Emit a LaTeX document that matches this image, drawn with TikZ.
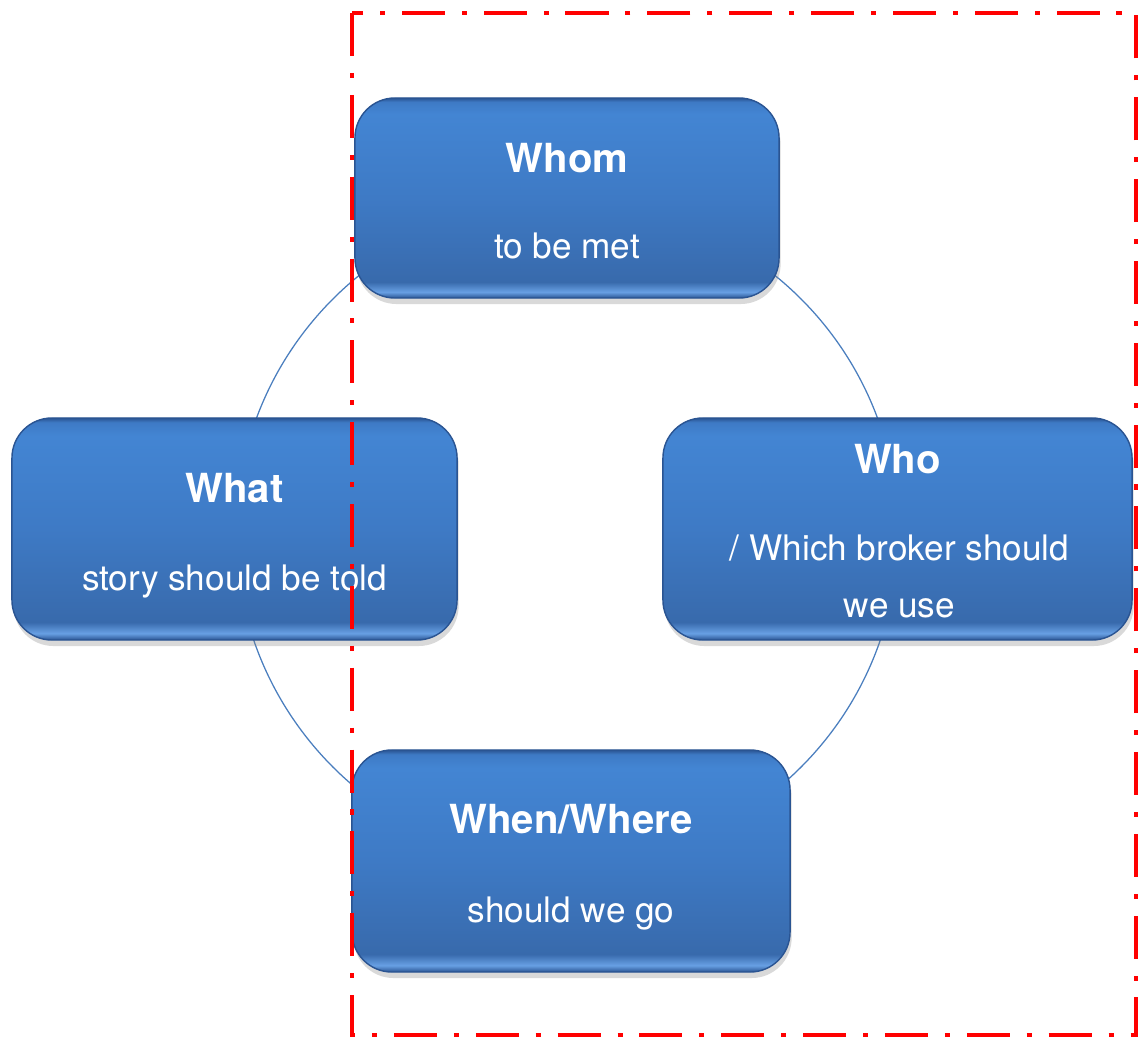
\documentclass[tikz,border=0pt]{standalone}
\usepackage{fontspec}
\setmainfont{TeX Gyre Heros}
\usepackage{xcolor}
\usepackage{tikz}
\usetikzlibrary{calc}
\usetikzlibrary{shadows}
\definecolor{cardtop}{RGB}{67,133,211}
\definecolor{cardmid}{RGB}{62,122,197}
\definecolor{cardlow}{RGB}{56,106,172}
\definecolor{cardlite}{RGB}{104,160,228}
\definecolor{cardedge}{RGB}{42,84,146}
\definecolor{ringblue}{RGB}{74,126,190}
\definecolor{framered}{RGB}{255,0,0}
\pgfdeclareverticalshading{cardshade}{100bp}{color(0bp)=(cardedge); color(25bp)=(cardedge);
    color(26.5bp)=(cardlite); color(29bp)=(cardlow); color(50bp)=(cardmid);
    color(71bp)=(cardtop); color(74bp)=(cardmid); color(75bp)=(cardedge); color(100bp)=(cardedge)}
\tikzset{
    textnode/.style = {align=center, inner sep=0pt, text centered, white},
    card/.style = {rectangle, rounded corners=1cm, draw=cardedge, line width=1pt, shading=cardshade,
        drop shadow={opacity=0.3, shadow xshift=0.04cm, shadow yshift=-0.15cm}},
    head/.style = {textnode, font=\fontsize{28.5}{34}\selectfont\bfseries, anchor=base},
    sub/.style = {textnode, font=\fontsize{25}{40.5}\selectfont, anchor=base},
    ring/.style = {draw=ringblue, line width=0.9pt},
    frame/.style = {draw=framered, line width=0.115cm, dash pattern=on 30.6pt off 12pt on 3.6pt off 12pt}
}

\begin{document}
\begin{tikzpicture}[x=0.025cm, y=-0.025cm]
    \useasboundingbox (0,0) rectangle (1140,1041);

    % ring behind the four cards
    \coordinate (hub) at (567,533);
    \draw[ring] (hub) circle[radius=331];

    \node[card, minimum width=10.6cm, minimum height=5cm] (whom) at (567,198) {};
    \node[card, minimum width=11.125cm, minimum height=5.55cm] (what) at (234.5,529) {};
    \node[card, minimum width=11.725cm, minimum height=5.55cm] (who) at (897.5,529) {};
    \node[card, minimum width=10.95cm, minimum height=5.55cm] (when) at (571,861) {};

    % labels
    \node[head] (whomT) at ($(whom)+(0,-26)$) {Whom};
    \node[sub] (whomS) at ($(whom)+(0,60)$) {to be met};
    \node[head] (whatT) at ($(what)+(0,-27)$) {What};
    \node[sub] (whatS) at ($(what)+(0,61)$) {story should be told};
    \node[head] (whoT) at ($(who)+(0,-56)$) {Who};
    \node[sub] (whoS) at ($(who)+(2,88)$) {/ Which broker should\\we use};
    \node[head] (whenT) at ($(when)+(0,-28)$) {When/Where};
    \node[sub] (whenS) at ($(when)+(0,61)$) {should we go};

    % dash-dot frame on top
    \coordinate (frameA) at (352,13);
    \coordinate (frameB) at (1136,1035);
    \draw[frame] (frameA) rectangle (frameB);
\end{tikzpicture}
\end{document}
